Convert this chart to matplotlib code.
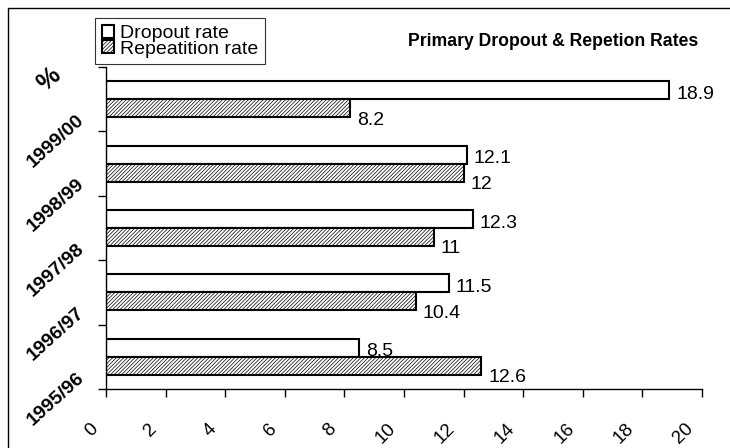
import matplotlib
matplotlib.use('Agg')
import matplotlib.pyplot as plt
from matplotlib.patches import Rectangle
from matplotlib.transforms import ScaledTranslation
import numpy as np

plt.rcParams['font.family'] = ['Liberation Sans', 'DejaVu Sans']
plt.rcParams['hatch.linewidth'] = 0.5

years = ['1995/96', '1996/97', '1997/98', '1998/99', '1999/00']
dropout = [8.5, 11.5, 12.3, 12.1, 18.9]
repeat = [12.6, 10.4, 11, 12, 8.2]
xticks = [0, 2, 4, 6, 8, 10, 12, 14, 16, 18, 20]

fig = plt.figure(figsize=(7.3, 4.48), dpi=100)
ax = fig.add_axes([106/730, 1-389/448, (702-106)/730, (389-67)/448])

y = np.arange(len(years))
h = 0.28
b1 = ax.barh(y + h/2, dropout, height=h, color='white', edgecolor='black', linewidth=1.5,
             label='Dropout rate')
b2 = ax.barh(y - h/2, repeat, height=h, color='white', edgecolor='black', linewidth=1.5,
             hatch='/////////', label='Repeatition rate')

# labels of the second series sit lower, as in the original
for rects, vals, dy in [(b1, dropout, -3), (b2, repeat, -8.5)]:
    for r, v in zip(rects, vals):
        ax.annotate('%g' % v, (v, r.get_y() + r.get_height()/2), xytext=(5, dy),
                    textcoords='offset points', va='center', ha='left', fontsize=14)

ax.set_xlim(0, 20)
ax.set_ylim(-0.5, len(years) - 0.5)
ax.set_xticks(xticks)
xl = ax.set_xticklabels([str(t) for t in xticks], rotation=45, ha='right', va='top',
                        rotation_mode='anchor', fontsize=13.5)
ax.set_yticks(np.arange(len(years) + 1) - 0.5)
yl = ax.set_yticklabels(years + [''], rotation=42, ha='right', va='top',
                        rotation_mode='anchor', fontsize=14, fontweight='bold')
ax.tick_params(axis='both', direction='out', length=6, width=1, color='black')
ax.tick_params(axis='x', pad=10)
ax.tick_params(axis='y', pad=6)

# shift tick labels like the excel layout
for t in xl:
    t.set_transform(t.get_transform() + ScaledTranslation(-0.17, -0.09, fig.dpi_scale_trans))
for t in yl:
    t.set_transform(t.get_transform() + ScaledTranslation(-0.13, 0.20, fig.dpi_scale_trans))

fig.text(49/730, 1-79/448, '%', rotation=42, fontsize=18, fontweight='bold',
         ha='center', va='center')

ax.spines['top'].set_visible(False)
ax.spines['right'].set_visible(False)
ax.spines['left'].set_linewidth(1)
ax.spines['bottom'].set_linewidth(1)

leg = ax.legend(loc='upper left', bbox_to_anchor=(95/730, 1-18/448), bbox_transform=fig.transFigure,
                fontsize=14, frameon=True, fancybox=False, edgecolor='black', handlelength=0.65,
                handleheight=0.65, handletextpad=0.3, borderpad=0.35, labelspacing=-0.1,
                borderaxespad=0)
leg.get_frame().set_linewidth(0.8)

fig.text(408/730, 1-42/448, 'Primary Dropout & Repetion Rates', fontsize=12.7,
         fontweight='bold', va='center', ha='left')

fig.patches.append(Rectangle((8/730, -0.1), 1.2, 1.1 - 8/448, transform=fig.transFigure,
                             fill=False, edgecolor='black', linewidth=1))

plt.savefig('out.png', dpi=100)
